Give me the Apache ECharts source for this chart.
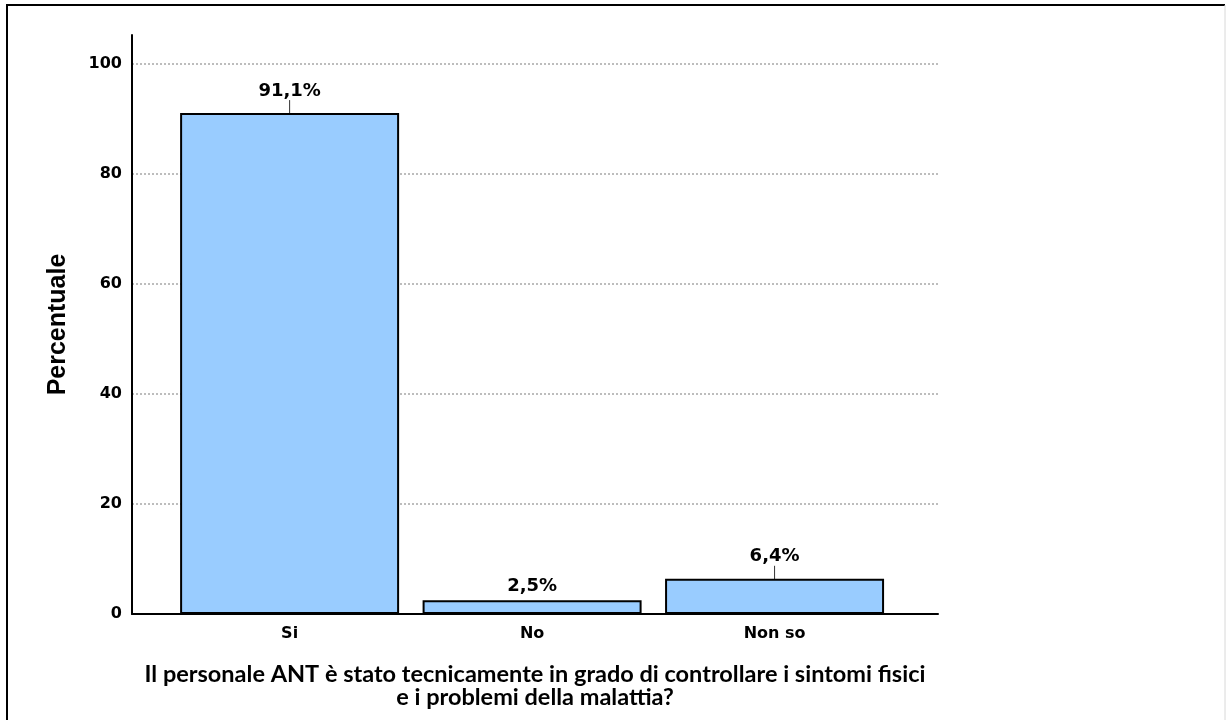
<!DOCTYPE html>
<html>
<head>
<meta charset="utf-8">
<script src="https://cdn.jsdelivr.net/npm/echarts@6/dist/echarts.min.js"></script>
<style>
  html, body { margin: 0; padding: 0; background: #fff; }
  #chart { width: 1226px; height: 720px; }
</style>
</head>
<body>
<div id="chart"></div>
<script>
// data
const categories = ['Si', 'No', 'Non so'];
const percentages = [91.1, 2.5, 6.4];
const yTicks = [0, 20, 40, 60, 80, 100];
const yTitle = 'Percentuale';
const xTitle = 'Il personale ANT è stato tecnicamente in grado di controllare i sintomi fisici\ne i problemi della malattia?';

const chart = echarts.init(document.getElementById('chart'));

// bars sit at x = 1, 2, 3 on a value axis so the axis line can run past them
const positions = categories.map((c, i) => i + 1);
// the small bar's label sits close to it, without a leader line
const barData = percentages.map((v, i) => ({
    value: [positions[i], v],
    labelLine: { show: v > 5 }
}));

const option = {
    animation: false,
    backgroundColor: '#fff',
    grid: { left: 132, right: 288, top: 35, bottom: 106 },
    graphic: [
        {
            type: 'polyline',
            shape: { points: [[7, 725], [7, 5], [1225, 5]] },
            style: { stroke: '#000', lineWidth: 2, fill: null }
        },
        {
            type: 'line',
            shape: { x1: 1225, y1: 5, x2: 1225, y2: 725 },
            style: { stroke: '#d8d8d8', lineWidth: 1 }
        }
    ],
    xAxis: {
        type: 'value',
        min: 0.35,
        max: 3.674,
        name: xTitle,
        nameLocation: 'middle',
        nameGap: 49,
        nameTextStyle: {
            fontFamily: 'Lato', fontWeight: 'bold', fontSize: 23.5,
            color: '#000', lineHeight: 23, align: 'center'
        },
        axisLine: { show: true, onZero: false, lineStyle: { color: '#000', width: 2 } },
        axisTick: { show: false },
        splitLine: { show: false },
        axisLabel: {
            customValues: positions,
            formatter: v => categories[Math.round(v) - 1] || '',
            margin: 12,
            fontFamily: 'DejaVu Sans', fontWeight: 'bold', fontSize: 16, color: '#000'
        }
    },
    yAxis: {
        type: 'value',
        min: 0,
        max: 105.3,
        interval: 20,
        name: yTitle,
        nameLocation: 'middle',
        nameGap: 61,
        nameTextStyle: {
            fontFamily: 'Liberation Sans', fontWeight: 'bold', fontSize: 25, color: '#000'
        },
        axisLine: { show: true, lineStyle: { color: '#000', width: 2 } },
        axisTick: { show: false },
        axisLabel: {
            customValues: yTicks,
            margin: 10,
            fontFamily: 'DejaVu Sans', fontWeight: 'bold', fontSize: 16, color: '#000'
        },
        splitLine: {
            show: true,
            showMaxLine: false,
            lineStyle: { color: '#bdbdbd', width: 2, type: [2, 2] }
        }
    },
    series: [{
        type: 'bar',
        data: barData,
        barWidth: 219,
        itemStyle: { color: '#99ccff', borderColor: '#000', borderWidth: 2 },
        label: {
            show: true,
            position: 'top',
            distance: 5,
            formatter: p => p.value[1].toFixed(1).replace('.', ',') + '%',
            fontFamily: 'DejaVu Sans', fontWeight: 'bold', fontSize: 18, color: '#000'
        },
        labelLayout: p => (p.dataIndex === 1 ? {} : { dy: -8 }),
        labelLine: { show: true, lineStyle: { color: '#333', width: 1 } }
    }]
};

chart.setOption(option);
</script>
</body>
</html>
